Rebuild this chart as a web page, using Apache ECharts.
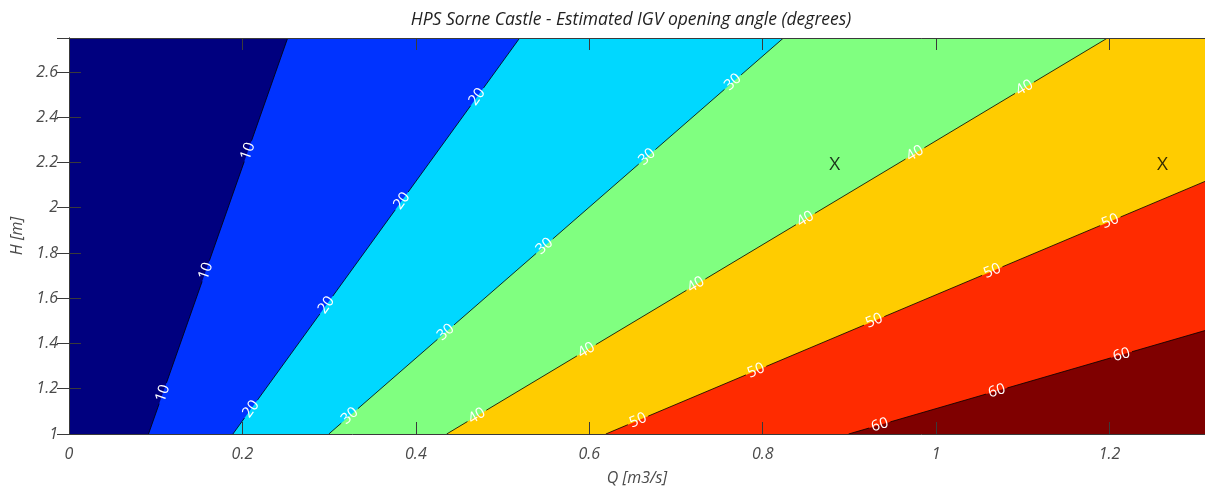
<!DOCTYPE html>
<html>
<head>
<meta charset="utf-8">
<script src="https://cdn.jsdelivr.net/npm/echarts@6/dist/echarts.min.js"></script>
<style>
  html, body { margin: 0; padding: 0; background: #fff; }
  #chart { width: 1205px; height: 492px; }
</style>
</head>
<body>
<div id="chart"></div>
<script>
// Axis ranges
const Q_MIN = 0, Q_MAX = 1.31;
const H_MIN = 1, H_MAX = 2.75;

// Contour levels (degrees) and the Q/H ratio along each contour line
const levels = [10, 20, 30, 40, 50, 60];
const ratioQH = [0.0917, 0.189, 0.2996, 0.4355, 0.619, 0.899];

// Fill colours: below first level, then one per band above each level
const bandColors = ['#00007F', '#0033FF', '#00D8FF', '#80FF80', '#FFCC00', '#FF2B00', '#7F0000'];

// Heights (H) where each contour carries an inline label
const labelH = [
  [2.25, 1.72, 1.18],
  [2.49, 2.03, 1.57, 1.11],
  [2.555, 2.225, 1.83, 1.45, 1.08],
  [2.53, 2.24, 1.95, 1.66, 1.37, 1.08],
  [1.94, 1.72, 1.50, 1.28, 1.06],
  [1.35, 1.19, 1.04]
];

// Operating points marked with "X"
const markerQ = [0.883, 1.261];
const markerH = [2.19, 2.19];

const FONT = '"Open Sans", "Noto Sans", sans-serif';
const AXIS_COLOR = '#3a3a3a';
const TEXT_COLOR = '#4a4a4a';

// Boundary of the region Q/H > r inside the plot box, traced as a polyline
function bandEdge(r) {
  const pts = [[r * H_MIN, H_MIN]];
  if (r * H_MAX <= Q_MAX) {
    pts.push([r * H_MAX, H_MAX]);
    pts.push([Q_MAX, H_MAX]);
  } else {
    pts.push([Q_MAX, Q_MAX / r]);
  }
  return pts;
}

const fillSeries = levels.map((lv, i) => ({
  name: 'band' + lv,
  type: 'line',
  data: bandEdge(ratioQH[i]),
  showSymbol: false,
  symbol: 'none',
  silent: true,
  lineStyle: { width: 0, opacity: 0 },
  areaStyle: { color: bandColors[i + 1], opacity: 1, origin: 'start' },
  z: 2 + i * 0.01,
  animation: false
}));

// Contour lines with inline, rotated labels and a gap behind each label
const contourSeries = {
  type: 'custom',
  coordinateSystem: 'cartesian2d',
  clip: true,
  silent: true,
  z: 5,
  animation: false,
  data: levels.map((lv, i) => [ratioQH[i] * H_MIN, H_MIN, lv]),
  renderItem: function (params, api) {
    const i = params.dataIndex;
    const r = ratioQH[i];
    const hEnd = Math.min(H_MAX, Q_MAX / r);
    const p0 = api.coord([r * H_MIN, H_MIN]);
    const p1 = api.coord([r * hEnd, hEnd]);
    const dx = p1[0] - p0[0], dy = p1[1] - p0[1];
    const len = Math.hypot(dx, dy);
    const ux = dx / len, uy = dy / len;
    const angle = Math.atan2(-dy, dx);
    const gap = 11;
    const children = [];
    const seg = (a, b) => ({
      type: 'line',
      shape: { x1: p0[0] + ux * a, y1: p0[1] + uy * a, x2: p0[0] + ux * b, y2: p0[1] + uy * b },
      style: { stroke: '#000', lineWidth: 0.8 }
    });
    const cuts = labelH[i].map(h => {
      const p = api.coord([r * h, h]);
      return { p: p, t: (p[0] - p0[0]) * ux + (p[1] - p0[1]) * uy };
    }).sort((a, b) => a.t - b.t);
    let start = 0;
    cuts.forEach(c => {
      const end = c.t - gap;
      if (end > start) children.push(seg(start, end));
      start = c.t + gap;
    });
    if (len > start) children.push(seg(start, len));
    cuts.forEach(c => {
      children.push({
        type: 'text',
        x: c.p[0], y: c.p[1],
        rotation: angle,
        style: {
          text: String(levels[i]),
          fill: '#ffffff',
          fontSize: 15,
          fontFamily: FONT,
          align: 'center',
          verticalAlign: 'middle'
        }
      });
    });
    return { type: 'group', children: children };
  }
};

const markerSeries = {
  type: 'scatter',
  data: markerQ.map((q, i) => [q, markerH[i]]),
  symbolSize: 1,
  itemStyle: { color: 'rgba(0,0,0,0)' },
  silent: true,
  z: 6,
  animation: false,
  label: {
    show: true,
    position: 'inside',
    formatter: 'X',
    color: '#000',
    fontSize: 19,
    fontFamily: FONT
  }
};

const axisCommon = {
  axisLine: { show: true, lineStyle: { color: AXIS_COLOR, width: 1 } },
  axisTick: { show: true, inside: true, length: 12, lineStyle: { color: AXIS_COLOR, width: 1 } },
  splitLine: { show: false },
  z: 10
};

const chart = echarts.init(document.getElementById('chart'), null, { renderer: 'canvas' });
chart.setOption({
  animation: false,
  backgroundColor: '#ffffff',
  title: {
    text: 'HPS Sorne Castle - Estimated IGV opening angle (degrees)',
    left: 626,
    top: 6,
    textAlign: 'center',
    textStyle: { fontFamily: FONT, fontSize: 17.5, fontStyle: 'italic', fontWeight: 'normal', color: '#222' }
  },
  grid: {
    left: 69, top: 38, width: 1137, height: 396,
    show: true,
    backgroundColor: bandColors[0],
    borderWidth: 0
  },
  xAxis: [
    Object.assign({}, axisCommon, {
      type: 'value', position: 'bottom',
      min: Q_MIN, max: Q_MAX, interval: 0.2,
      name: 'Q [m3/s]', nameLocation: 'middle', nameGap: 36,
      nameTextStyle: { fontFamily: FONT, fontSize: 16, fontStyle: 'italic', color: TEXT_COLOR },
      axisLabel: { margin: 12, fontFamily: FONT, fontSize: 16, fontStyle: 'italic', color: TEXT_COLOR, showMaxLabel: false }
    }),
    Object.assign({}, axisCommon, {
      type: 'value', position: 'top',
      min: Q_MIN, max: Q_MAX, interval: 0.2,
      axisLabel: { show: false }
    })
  ],
  yAxis: [
    Object.assign({}, axisCommon, {
      type: 'value', position: 'left',
      min: H_MIN, max: H_MAX, interval: 0.2,
      name: 'H [m]', nameLocation: 'middle', nameGap: 38, nameRotate: 90,
      nameTextStyle: { fontFamily: FONT, fontSize: 16, fontStyle: 'italic', color: TEXT_COLOR },
      axisLabel: { margin: 11, fontFamily: FONT, fontSize: 16, fontStyle: 'italic', color: TEXT_COLOR, showMaxLabel: false }
    }),
    Object.assign({}, axisCommon, {
      type: 'value', position: 'right',
      min: H_MIN, max: H_MAX, interval: 0.2,
      axisLabel: { show: false }
    })
  ],
  series: fillSeries.concat([contourSeries, markerSeries])
});
</script>
</body>
</html>
